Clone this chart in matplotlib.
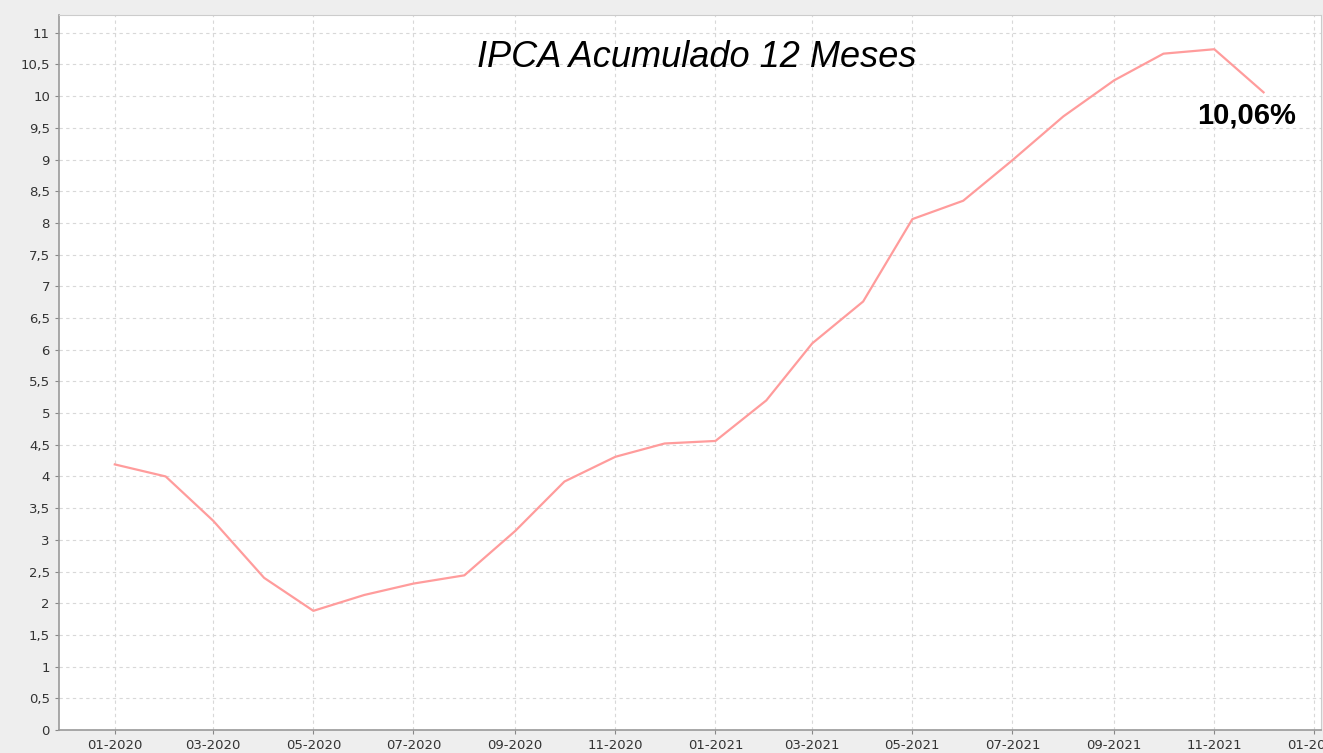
import matplotlib
matplotlib.use("Agg")
import matplotlib.pyplot as plt
import matplotlib.dates as mdates
import matplotlib.ticker as mticker
from datetime import datetime, timedelta

# IPCA acumulado 12 meses (%)
months = [datetime(2020, m, 1) for m in range(1, 13)] + [datetime(2021, m, 1) for m in range(1, 13)]
ipca = [4.19, 4.00, 3.30, 2.40, 1.88, 2.13, 2.31, 2.44, 3.14, 3.92, 4.31, 4.52,
        4.56, 5.20, 6.10, 6.76, 8.06, 8.35, 8.99, 9.68, 10.25, 10.67, 10.74, 10.06]
title = "IPCA Acumulado 12 Meses"
last_label = "10,06%"

fig = plt.figure(figsize=(13.23, 7.53), dpi=100, facecolor="#eeeeee")
ax = fig.add_axes([59 / 1323, 1 - 730 / 753, (1321 - 59) / 1323, (730 - 15) / 753])
ax.set_facecolor("white")

ax.plot(months, ipca, color="#ff9c9c", lw=1.6, zorder=3)

ax.set_ylim(0, 11.28)
ax.set_xlim(datetime(2020, 1, 1) - timedelta(days=34), datetime(2022, 1, 1) + timedelta(days=4))
ax.yaxis.set_major_locator(mticker.MultipleLocator(0.5))
ax.yaxis.set_major_formatter(mticker.FuncFormatter(lambda v, p: f"{v:g}".replace(".", ",")))
ax.xaxis.set_major_locator(mdates.MonthLocator(bymonth=[1, 3, 5, 7, 9, 11]))
ax.xaxis.set_major_formatter(mdates.DateFormatter("%m-%Y"))

ax.grid(True, color="#d8d8d8", linestyle=(0, (3, 3)), lw=0.8)
ax.tick_params(labelsize=9.5, colors="#333333", length=3, color="#888888")
for s in ["left", "bottom"]:
    ax.spines[s].set_color("#999999")
    ax.spines[s].set_linewidth(1.2)
for s in ["top", "right"]:
    ax.spines[s].set_color("#cccccc")

ax.text(0.505, 0.94, title, transform=ax.transAxes, ha="center", va="center",
        fontsize=26, style="italic", family="Liberation Sans")
ax.annotate(last_label, (months[-1], ipca[-1]), textcoords="offset points",
            xytext=(-12, -17), ha="center", va="center",
            fontsize=21, weight="bold", family="Liberation Sans")

fig.savefig("out.png", dpi=100, facecolor=fig.get_facecolor())
